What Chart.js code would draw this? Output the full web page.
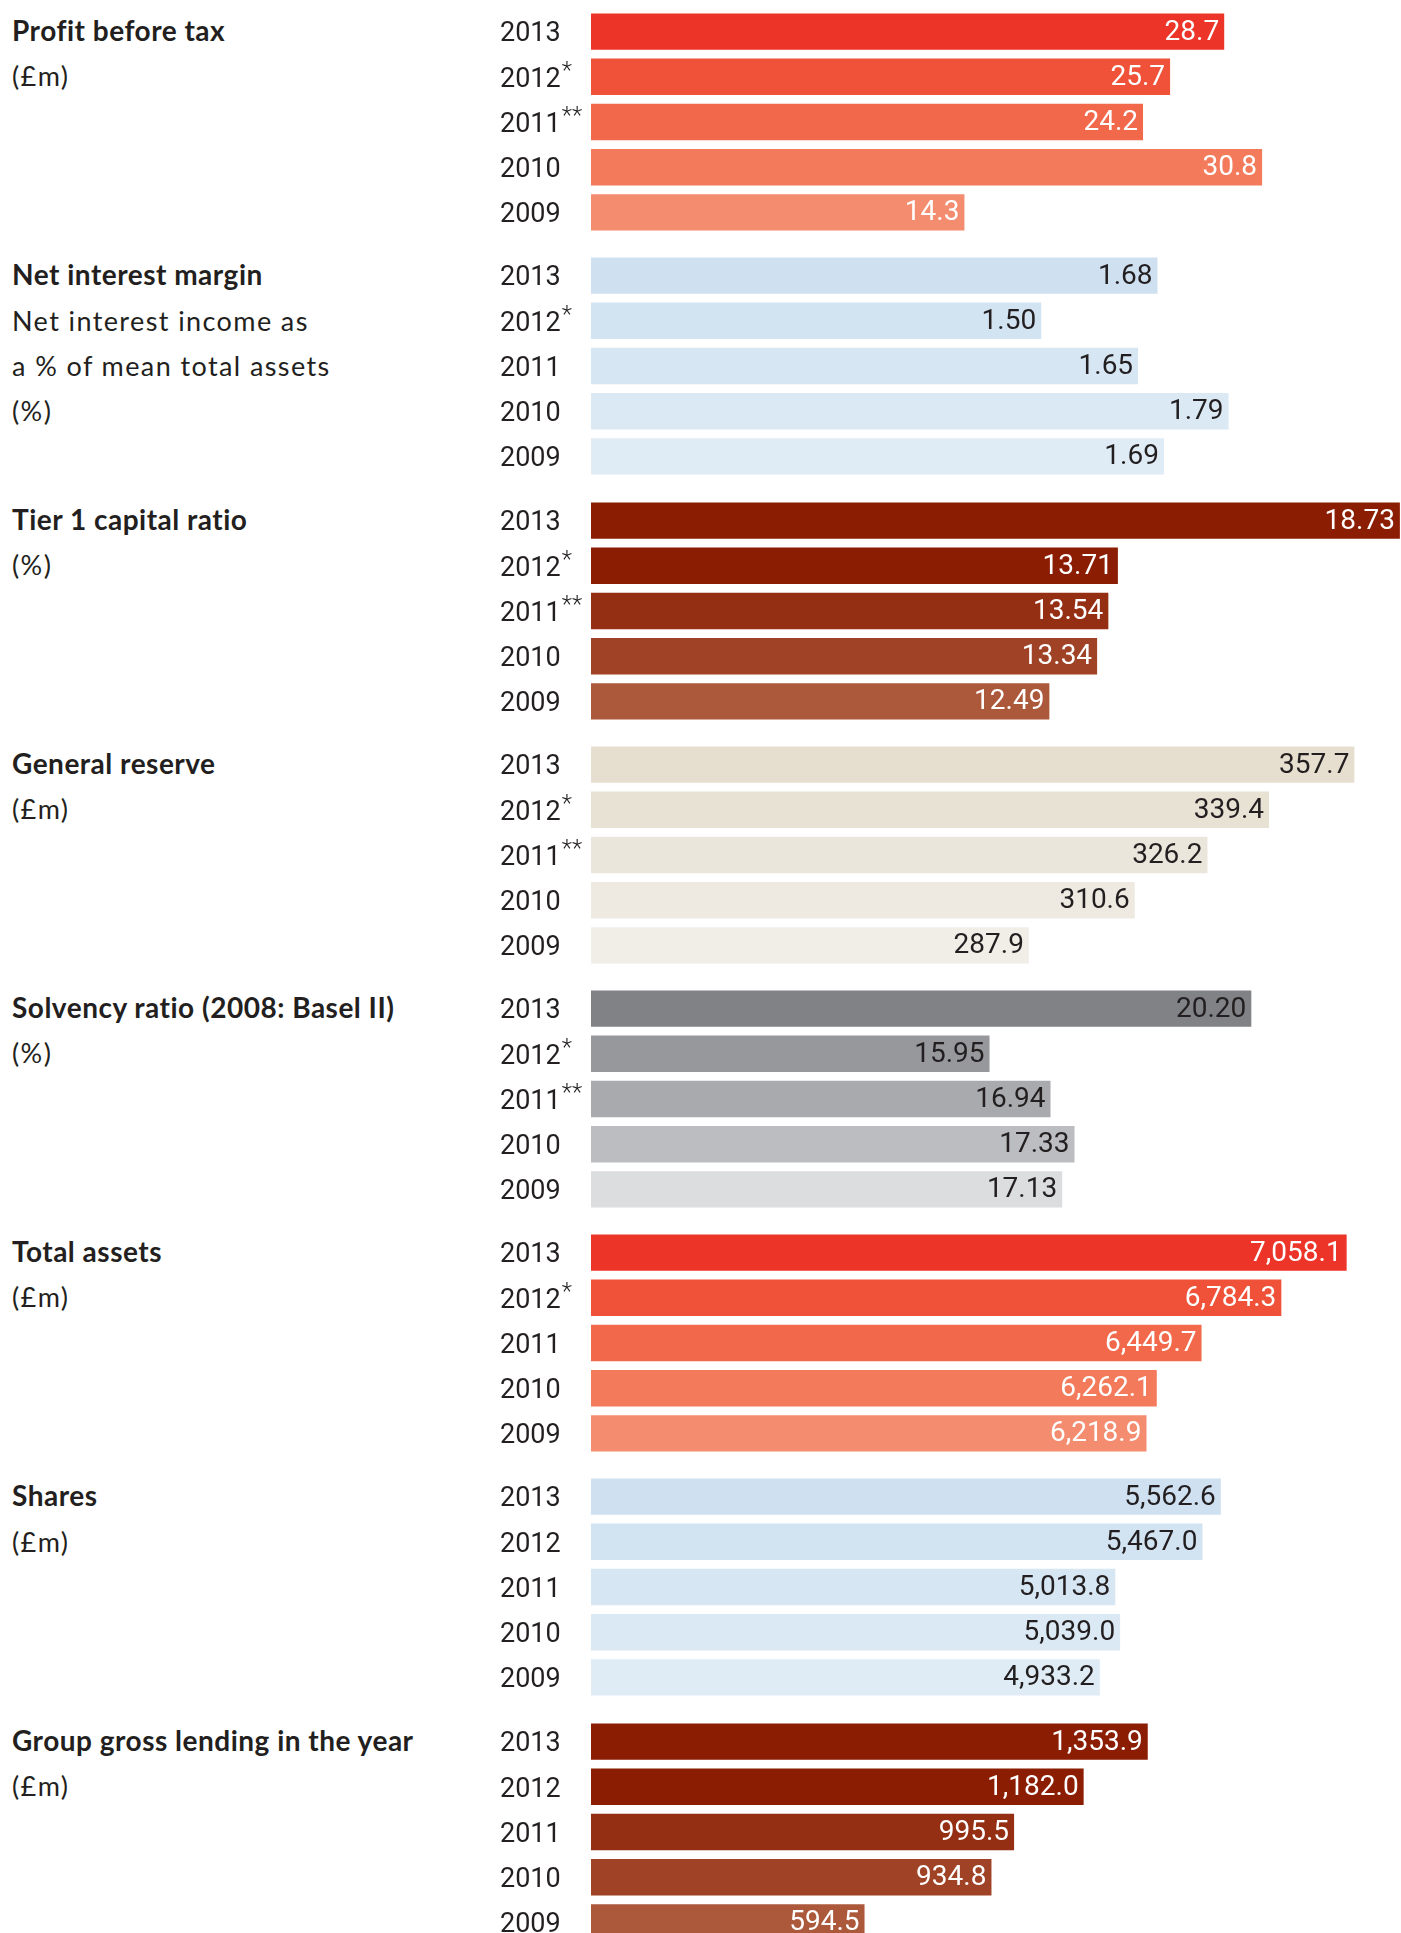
<!DOCTYPE html>
<html><head><meta charset="utf-8">
<script src="https://cdn.jsdelivr.net/npm/chart.js@4/dist/chart.umd.min.js"></script>
<style>
html,body{margin:0;padding:0;width:1401px;height:1933px;overflow:hidden;background:#fff;}
.panel{position:absolute;left:0;width:1401px;height:226px;}
.label{position:absolute;left:12px;top:-1px;font-family:Lato,sans-serif;color:#231f20;font-size:27px;line-height:45.2px;white-space:nowrap;}
.label .t{font-weight:700;font-size:28px;letter-spacing:0.5px;}
.label .s{letter-spacing:1.4px;}
canvas{position:absolute;left:500px;top:0;}
</style></head><body>
<div id="root"></div>
<script>
// ---- data ----
const yearsStars = ['2013','2012*','2011**','2010','2009'];
const yearsOneStar = ['2013','2012*','2011','2010','2009'];
const yearsPlain = ['2013','2012','2011','2010','2009'];

const profitBeforeTax   = [28.7, 25.7, 24.2, 30.8, 14.3];
const netInterestMargin = [1.68, 1.50, 1.65, 1.79, 1.69];
const tier1Ratio        = [18.73, 13.71, 13.54, 13.34, 12.49];
const generalReserve    = [357.7, 339.4, 326.2, 310.6, 287.9];
const solvencyRatio     = [20.20, 15.95, 16.94, 17.33, 17.13];
const totalAssets       = [7058.1, 6784.3, 6449.7, 6262.1, 6218.9];
const shares            = [5562.6, 5467.0, 5013.8, 5039.0, 4933.2];
const grossLending      = [1353.9, 1182.0, 995.5, 934.8, 594.5];

const panelTitles = ['Profit before tax','Net interest margin','Tier 1 capital ratio','General reserve',
  'Solvency ratio (2008: Basel II)','Total assets','Shares','Group gross lending in the year'];
const panelSubtitles = [['(£m)'],['Net interest income as','a % of mean total assets','(%)'],['(%)'],['(£m)'],
  ['(%)'],['(£m)'],['(£m)'],['(£m)']];
const panelYears = [yearsStars, yearsOneStar, yearsStars, yearsStars, yearsStars, yearsOneStar, yearsPlain, yearsPlain];
const panelValues = [profitBeforeTax, netInterestMargin, tier1Ratio, generalReserve, solvencyRatio, totalAssets, shares, grossLending];
const panelDecimals = [1, 2, 2, 1, 2, 1, 1, 1];

// ---- styles ----
const redShades   = ['#ec3428','#ef5238','#f1684b','#f37b5b','#f48d6f'];
const blueShades  = ['#cfe1f1','#d2e3f2','#d6e6f3','#dae9f4','#dfecf6'];
const brownShades = ['#8b1d03','#8b1d03','#952f13','#9f4225','#ab583b'];
const beigeShades = ['#e6dfd0','#e8e2d5','#ebe6db','#eeeae1','#f1eee8'];
const greyShades  = ['#818286','#97989b','#a9aaad','#bcbdc0','#dcdddf'];
const panelColors = [redShades, blueShades, brownShades, beigeShades, greyShades, redShades, blueShades, brownShades];
const panelTextColors = ['#ffffff','#231f20','#ffffff','#231f20','#231f20','#ffffff','#231f20','#ffffff'];
const panelRanges = [[-6.4,38.5],[0.803,2.057],[4.33,18.75],[194,367.7],[9.48,22.63],[3890,7286],[2286,6500],[-139,2033]];

const DARK = '#231f20';
const NUM_FONT = 'Roboto';
const NUM_SIZE = 27;
const VAL_SIZE = 28;
const LABEL_SHIFT = 3;
const PANEL_TOP = 9.2, PANEL_STEP = 244.2, CANVAS_W = 901, CANVAS_H = 226, AXIS_W = 91;

const valueLabels = {
  id: 'valueLabels',
  afterDatasetsDraw(chart, args, opts) {
    const ctx = chart.ctx;
    const meta = chart.getDatasetMeta(0);
    const ds = chart.data.datasets[0];
    ctx.save();
    ctx.font = `400 ${VAL_SIZE}px ${NUM_FONT}`;
    ctx.fillStyle = opts.color;
    ctx.textAlign = 'right';
    ctx.textBaseline = 'middle';
    meta.data.forEach((bar, i) => {
      const txt = ds.data[i].toLocaleString('en-GB', {minimumFractionDigits: opts.dec, maximumFractionDigits: opts.dec});
      ctx.fillText(txt, Math.min(bar.x, chart.chartArea.right) - 5, bar.y + 1);
    });
    ctx.restore();
  }
};

const yearStars = {
  id: 'yearStars',
  afterDraw(chart) {
    const scale = chart.scales.y;
    const ctx = chart.ctx;
    ctx.save();
    chart.data.labels.forEach((lab, i) => {
      const m = lab.match(/^(\d+)(\*+)$/);
      if (!m) return;
      ctx.font = `400 ${NUM_SIZE}px ${NUM_FONT}`;
      const w = ctx.measureText(m[1]).width;
      const y = scale.getPixelForTick(i) + LABEL_SHIFT;
      ctx.font = `300 24px ${NUM_FONT}`;
      ctx.fillStyle = DARK;
      ctx.textAlign = 'left';
      ctx.textBaseline = 'alphabetic';
      ctx.fillText(m[2], scale.left + w + 1, y - 2);
    });
    ctx.restore();
  }
};

const root = document.getElementById('root');
panelTitles.forEach((title, k) => {
  const panel = document.createElement('div');
  panel.className = 'panel';
  panel.style.top = (PANEL_TOP + PANEL_STEP * k) + 'px';
  const lab = document.createElement('div');
  lab.className = 'label';
  const t = document.createElement('div'); t.className = 't'; t.textContent = title; lab.appendChild(t);
  panelSubtitles[k].forEach(s => { const d = document.createElement('div'); d.className = 's'; d.textContent = s; lab.appendChild(d); });
  panel.appendChild(lab);
  const canvas = document.createElement('canvas');
  canvas.width = CANVAS_W; canvas.height = CANVAS_H;
  canvas.style.width = CANVAS_W + 'px'; canvas.style.height = CANVAS_H + 'px';
  panel.appendChild(canvas);
  root.appendChild(panel);

  const [mn, mx] = panelRanges[k];
  new Chart(canvas, {
    type: 'bar',
    data: {
      labels: panelYears[k],
      datasets: [{
        data: panelValues[k],
        backgroundColor: panelColors[k],
        borderWidth: 0,
        base: mn,
        barPercentage: 0.805,
        categoryPercentage: 1.0
      }]
    },
    options: {
      indexAxis: 'y',
      responsive: false,
      animation: false,
      devicePixelRatio: 1,
      layout: {padding: 0, autoPadding: false},
      plugins: {legend: {display: false}, tooltip: {enabled: false}, valueLabels: {color: panelTextColors[k], dec: panelDecimals[k]}},
      scales: {
        x: {display: false, min: mn, max: mx},
        y: {
          grid: {display: false},
          border: {display: false},
          ticks: {
            crossAlign: 'far',
            labelOffset: LABEL_SHIFT,
            color: DARK,
            font: {family: NUM_FONT, size: NUM_SIZE, weight: '400'},
            callback: function (v) { return this.getLabelForValue(v).replace(/\*/g, ''); }
          },
          afterFit(scale) { scale.width = AXIS_W; scale.paddingTop = 0; scale.paddingBottom = 0; }
        }
      }
    },
    plugins: [valueLabels, yearStars]
  });
});
</script>
</body></html>
